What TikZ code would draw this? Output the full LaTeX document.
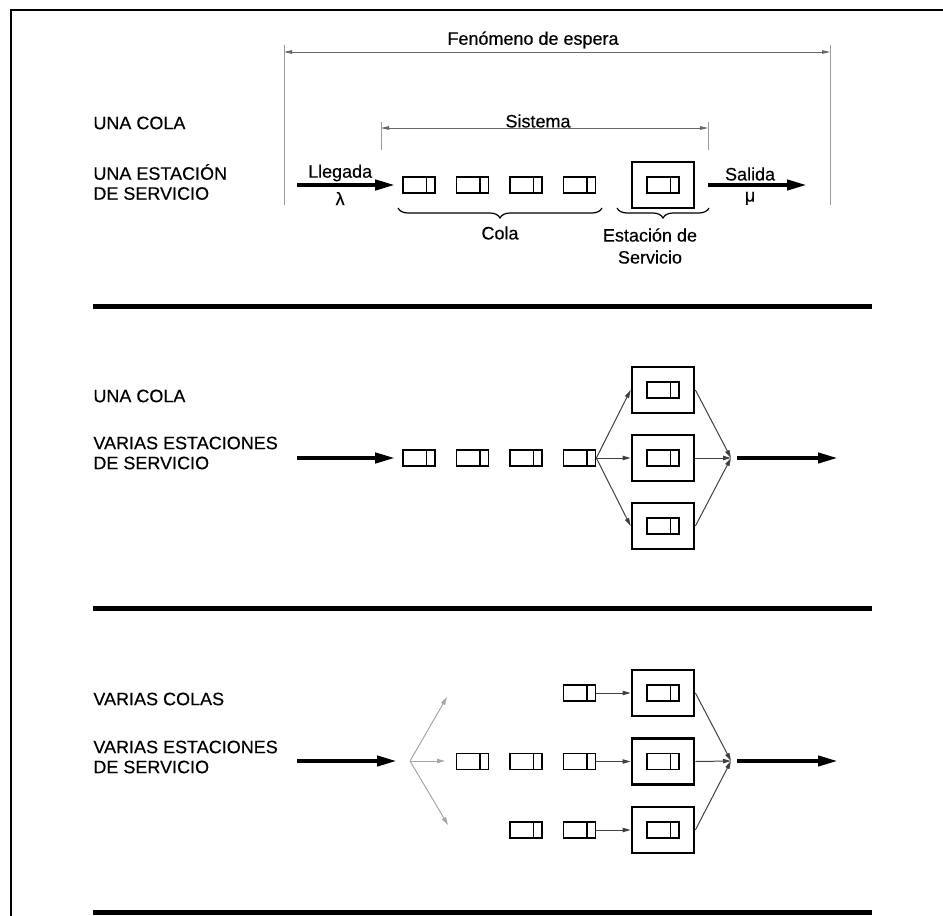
\documentclass[tikz,border=0pt]{standalone}
\usepackage{fontspec}
\setmainfont{Liberation Sans}[FakeBold=0.35]
\usetikzlibrary{arrows.meta,decorations.pathreplacing}

\begin{document}
\begin{tikzpicture}[
    x=0.5pt,
    y=-0.5pt,
    font=\fontsize{9}{10}\selectfont,
    client/.style={draw, line width=0.8pt, minimum width=16pt,
      minimum height=8pt, inner sep=0pt,
      path picture={\draw[line width=0.8pt]
        ([xshift=-4.2pt]path picture bounding box.north east) --
        ([xshift=-4.2pt]path picture bounding box.south east);}},
    station/.style={draw, line width=1.4pt, minimum width=31pt,
      minimum height=23pt, inner sep=0pt},
    flow/.style={line width=2pt, -{Triangle[length=10pt,width=5pt]}},
    feed/.style={line width=0.5pt, black!75, -{Triangle[length=4pt,width=2.2pt]}},
    ghost/.style={feed, black!35},
    dimline/.style={line width=0.4pt, black!60,
      {Triangle[length=4pt,width=1.8pt]}-{Triangle[length=4pt,width=1.8pt]}},
    extline/.style={line width=0.4pt, black!40},
    sepline/.style={line width=2.5pt},
    rowtext/.style={anchor=west, align=left, inner sep=0pt},
    bracedeco/.style={decorate, decoration={brace, mirror, amplitude=5pt},
      line width=0.6pt}]

    \useasboundingbox (0,0) rectangle (943,916);

    % Frame
    \draw[line width=1pt] (11,916) -- (11,10) -- (943,10);

    % Separators
    \foreach \y in {306,608,912} {
      \draw[sepline] (93,\y) -- (872,\y);
    }

    % Row titles
    \node[rowtext] (t1a) at (93,123) {UNA COLA};
    \node[rowtext] (t1b) at (93,182) {UNA ESTACIÓN\\DE SERVICIO};
    \node[rowtext] (t2a) at (93,396) {UNA COLA};
    \node[rowtext] (t2b) at (93,453) {VARIAS ESTACIONES\\DE SERVICIO};
    \node[rowtext] (t3a) at (93,699) {VARIAS COLAS};
    \node[rowtext] (t3b) at (93,757) {VARIAS ESTACIONES\\DE SERVICIO};

    % Waiting phenomenon span
    \coordinate (fe-l) at (284,52);
    \coordinate (fe-r) at (830,52);
    \draw[extline] (284,45) -- (284,205);
    \draw[extline] (830,45) -- (830,205);
    \draw[dimline] (fe-l) -- (fe-r);
    \node (fe) at (533,40) {Fenómeno de espera};

    % System span
    \coordinate (sy-l) at (381,128);
    \coordinate (sy-r) at (708,128);
    \draw[extline] (381,122) -- (381,150);
    \draw[extline] (708,122) -- (708,150);
    \draw[dimline] (sy-l) -- (sy-r);
    \node (sy) at (538,121) {Sistema};

    % Row 1: one queue, one station
    \foreach \c in {1,...,4} {
      \pgfmathsetmacro\x{419 + (\c-1)*53.5}
      \node[client] (q1-\c) at (\x,185) {};
    }
    \node[station] (st1) at (663,185) {};
    \node[client] (sc1) at (st1) {};
    \coordinate (in1) at (297,185);
    \coordinate (out1) at (807,185);
    \draw[flow, shorten >=3.5pt] (in1) --
        node[pos=0.41, above, inner sep=0.8pt] {Llegada}
        node[pos=0.41, below, inner sep=2.5pt] {λ} (q1-1);
    \draw[flow, shorten <=6.5pt] (st1) --
        node[pos=0.49, above, inner sep=1.2pt] {Salida}
        node[pos=0.49, below, inner sep=2.5pt] {μ} (out1);

    % Braces
    \coordinate (cb-l) at (398,208);
    \coordinate (cb-r) at (602,208);
    \coordinate (sb-l) at (617,208);
    \coordinate (sb-r) at (709,208);
    \draw[bracedeco] (cb-l) -- (cb-r);
    \draw[bracedeco] (sb-l) -- (sb-r);
    \node (cola) at (500,233) {Cola};
    \node[align=center, font=\fontsize{9}{11}\selectfont] (stl) at (650,246)
      {Estación de\\Servicio};

    % Row 2: one queue, several stations
    \foreach \c in {1,...,4} {
      \pgfmathsetmacro\x{419 + (\c-1)*53.5}
      \node[client] (q2-\c) at (\x,458) {};
    }
    \coordinate (in2) at (297,458);
    \coordinate (m2) at (731,458);
    \coordinate (out2) at (838,458);
    \draw[flow, shorten >=3.5pt] (in2) -- (q2-1);
    \foreach \k in {1,2,3} {
      \pgfmathsetmacro\y{390 + (\k-1)*68}
      \node[station] (st2-\k) at (663,\y) {};
      \node[client] (sc2-\k) at (st2-\k) {};
      \draw[feed] (q2-4.east) -- (st2-\k.west);
      \draw[feed] (st2-\k.east) -- (m2);
    }
    \draw[flow, shorten <=3pt] (m2) -- (out2);

    % Row 3: several queues, several stations
    \coordinate (in3) at (297,761);
    \coordinate (f3) at (410,761);
    \coordinate (m3) at (731,761);
    \coordinate (out3) at (838,761);
    \draw[flow, shorten >=6.5pt] (in3) -- (f3);
    \coordinate (fa-1) at (447,697);
    \coordinate (fa-2) at (445,761);
    \coordinate (fa-3) at (448,825);
    \foreach \k in {1,2,3} {
      \draw[ghost] (f3) -- (fa-\k);
    }
    \foreach \k/\first in {1/4, 2/2, 3/3} {
      \pgfmathsetmacro\y{693 + (\k-1)*68.5}
      \node[station] (st3-\k) at (663,\y) {};
      \node[client] (sc3-\k) at (st3-\k) {};
      \foreach \c in {\first,...,4} {
        \pgfmathsetmacro\x{419 + (\c-1)*53.5}
        \node[client] (q3-\k-\c) at (\x,\y) {};
      }
      \draw[feed] (q3-\k-4) -- (st3-\k);
      \draw[feed] (st3-\k.east) -- (m3);
    }
    \draw[flow, shorten <=3pt] (m3) -- (out3);
  \end{tikzpicture}
\end{document}
